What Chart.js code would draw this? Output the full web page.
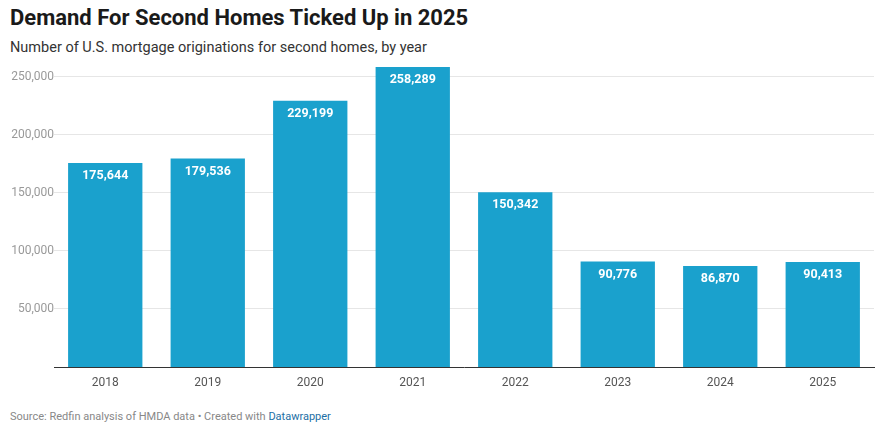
<!DOCTYPE html>
<html>
<head>
<meta charset="utf-8">
<script src="https://cdn.jsdelivr.net/npm/chart.js@4"></script>
<style>
  body { margin: 0; width: 887px; height: 435px; position: relative; font-family: Roboto, sans-serif; background: #fff; overflow: hidden; }
  #title { position: absolute; left: 10px; top: 5px; font-size: 22px; font-weight: 700; color: #1a1a1a; }
  #subtitle { position: absolute; left: 10px; top: 39px; font-size: 14.5px; color: #333; }
  #footer { position: absolute; left: 10px; top: 410px; font-size: 11px; color: #888; }
  #footer span { color: #1d6fa5; }
  #wrap { position: absolute; left: 0; top: 0; width: 887px; height: 435px; }
</style>
</head>
<body>
<div id="title">Demand For Second Homes Ticked Up in 2025</div>
<div id="subtitle">Number of U.S. mortgage originations for second homes, by year</div>
<div id="footer">Source: Redfin analysis of HMDA data • Created with <span>Datawrapper</span></div>
<div id="wrap"><canvas id="chart"></canvas></div>
<script>
// data
const years = ["2018", "2019", "2020", "2021", "2022", "2023", "2024", "2025"];
const originations = [175644, 179536, 229199, 258289, 150342, 90776, 86870, 90413];
const yTicks = [50000, 100000, 150000, 200000, 250000];

// white value labels inside the top of each bar
const barLabels = {
    id: "barLabels",
    afterDatasetsDraw(chart) {
        const ctx = chart.ctx;
        const meta = chart.getDatasetMeta(0);
        ctx.save();
        ctx.font = "bold 12.5px Roboto";
        ctx.fillStyle = "#fff";
        ctx.textAlign = "center";
        ctx.textBaseline = "middle";
        meta.data.forEach((bar, i) => {
            ctx.fillText(originations[i].toLocaleString("en-US"), bar.x, bar.y + 13);
        });
        ctx.restore();
    }
};

new Chart(document.getElementById("chart"), {
    type: "bar",
    data: {
        labels: years,
        datasets: [{
            data: originations,
            backgroundColor: "#1aa1cd",
            barPercentage: 0.725,
            categoryPercentage: 1
        }]
    },
    options: {
        responsive: true,
        maintainAspectRatio: false,
        animation: false,
        layout: { padding: { top: 65, right: 13, left: 0, bottom: 0 } },
        plugins: { legend: { display: false }, tooltip: { enabled: false } },
        scales: {
            x: {
                afterFit: (s) => { s.height = 68; },
                grid: { display: false },
                border: { color: "#333", width: 1 },
                ticks: { color: "#555", font: { family: "Roboto", size: 12 }, padding: 1 }
            },
            y: {
                min: 0,
                max: 260000,
                afterFit: (s) => { s.width = 54; },
                afterBuildTicks: (s) => { s.ticks = yTicks.map(v => ({ value: v })); },
                border: { display: false },
                grid: { color: "#e6e6e6", drawTicks: false },
                ticks: {
                    color: "#999",
                    padding: 0,
                    font: { family: "Roboto", size: 12 },
                    callback: (v) => v.toLocaleString("en-US")
                }
            }
        }
    },
    plugins: [barLabels]
});
</script>
</body>
</html>
